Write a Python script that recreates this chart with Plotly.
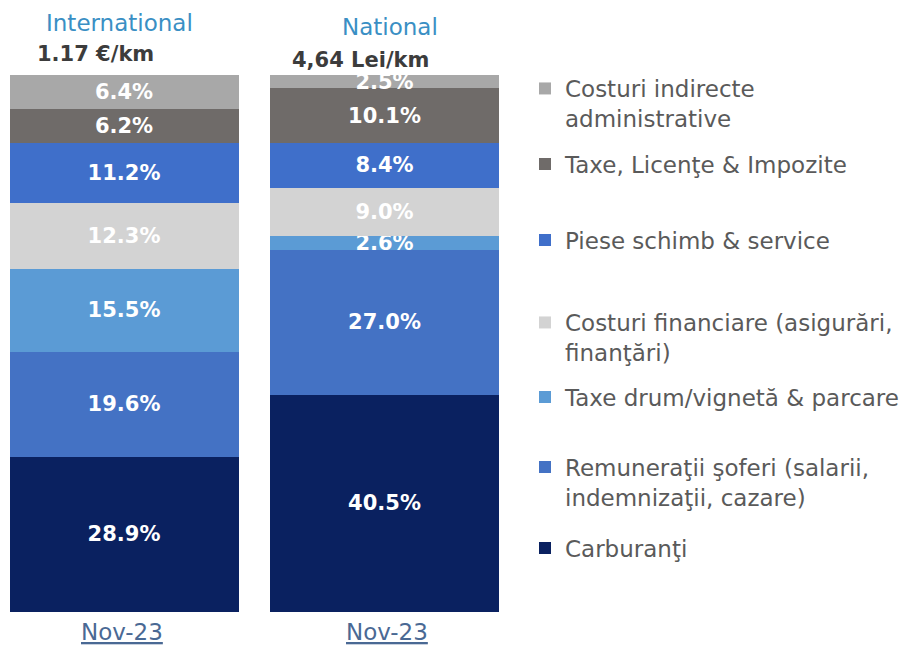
import plotly.graph_objects as go

# ---- data ----
categories = ["International", "National"]
unit_costs = ["1.17 €/km", "4,64 Lei/km"]
periods = ["Nov-23", "Nov-23"]

series_names = [
    "Carburanţi",
    "Remuneraţii şoferi (salarii,<br>indemnizaţii, cazare)",
    "Taxe drum/vignetă & parcare",
    "Costuri financiare (asigurări,<br>finanţări)",
    "Piese schimb & service",
    "Taxe, Licenţe & Impozite",
    "Costuri indirecte<br>administrative",
]
carburanti = [28.9, 40.5]
remuneratii = [19.6, 27.0]
taxe_drum = [15.5, 2.6]
costuri_financiare = [12.3, 9.0]
piese_service = [11.2, 8.4]
taxe_licente = [6.2, 10.1]
costuri_indirecte = [6.4, 2.5]

series_values = [carburanti, remuneratii, taxe_drum, costuri_financiare,
                 piese_service, taxe_licente, costuri_indirecte]
series_colors = ["#0a2160", "#4472c4", "#5b9bd5", "#d3d3d3",
                 "#3f6fca", "#6f6b69", "#a8a8a8"]

# ---- layout geometry (page body has an 8px margin) ----
OFF = 8
W, H = 919 - OFF, 655 - OFF
FONT = "DejaVu Sans"
px_per_unit_x = 260.5
x0 = -(124 - OFF) / px_per_unit_x
y_scale = 537 / 100.1
bottom_px = 612 - OFF
y_range = [-(H - bottom_px) / y_scale, bottom_px / y_scale]

xpos = list(range(len(categories)))

fig = go.Figure()
legend_centers = [548, 482, 397, 337.5, 240, 164, 103.5]
for i, (name, vals, col) in enumerate(zip(series_names, series_values, series_colors)):
    lg = "legend" if i == 0 else f"legend{i+1}"
    fig.add_trace(go.Bar(
        x=xpos, y=vals, name=name,
        marker=dict(color=col, line=dict(width=0)),
        width=229 / px_per_unit_x,
        text=[f"{v:.1f}%" for v in vals],
        textposition="inside", insidetextanchor="middle",
        textangle=0, constraintext="none",
        textfont=dict(family=FONT, size=21, color="white", weight="bold"),
        legend=lg, hoverinfo="skip",
    ))

legend_x_px = 525 - OFF
layout_legends = {}
for i, cy in enumerate(legend_centers):
    key = "legend" if i == 0 else f"legend{i+1}"
    layout_legends[key] = dict(
        x=legend_x_px / W, xanchor="left",
        y=1 - (cy - OFF) / H, yanchor="middle",
        font=dict(family=FONT, size=23, color="#5a5a5a"),
        bgcolor="rgba(0,0,0,0)", valign="top",
        itemclick=False, itemdoubleclick=False,
    )

annotations = []
title_shift = [-5, 5.5]
title_y = [23.5, 26.5]
unit_shift = [-29, -24.5]
unit_y = [54.5, 59.5]
period_shift = [-2, 2]
for i, cat in enumerate(categories):
    annotations.append(dict(x=xpos[i], xref="x", y=1 - (title_y[i] - OFF) / H, yref="paper",
                            text=cat, showarrow=False, xshift=title_shift[i],
                            yanchor="middle",
                            font=dict(family=FONT, size=23, color="#3a8fc4")))
    annotations.append(dict(x=xpos[i], xref="x", y=1 - (unit_y[i] - OFF) / H, yref="paper",
                            text=unit_costs[i], showarrow=False, xshift=unit_shift[i],
                            yanchor="middle",
                            font=dict(family=FONT, size=21, color="#3c3c3c", weight="bold")))
    annotations.append(dict(x=xpos[i], xref="x", y=1 - (632 - OFF) / H, yref="paper",
                            text=f"<u>{periods[i]}</u>", showarrow=False,
                            xshift=period_shift[i], yanchor="middle",
                            font=dict(family=FONT, size=23, color="#4a6994")))

fig.update_layout(
    width=W, height=H,
    margin=dict(l=0, r=0, t=0, b=0),
    paper_bgcolor="white", plot_bgcolor="white",
    barmode="stack",
    showlegend=True,
    xaxis=dict(visible=False, range=[x0, x0 + W / px_per_unit_x], domain=[0, 1], fixedrange=True),
    yaxis=dict(visible=False, range=y_range, domain=[0, 1], fixedrange=True),
    annotations=annotations,
    **layout_legends,
)

fig.write_html("out.html")
